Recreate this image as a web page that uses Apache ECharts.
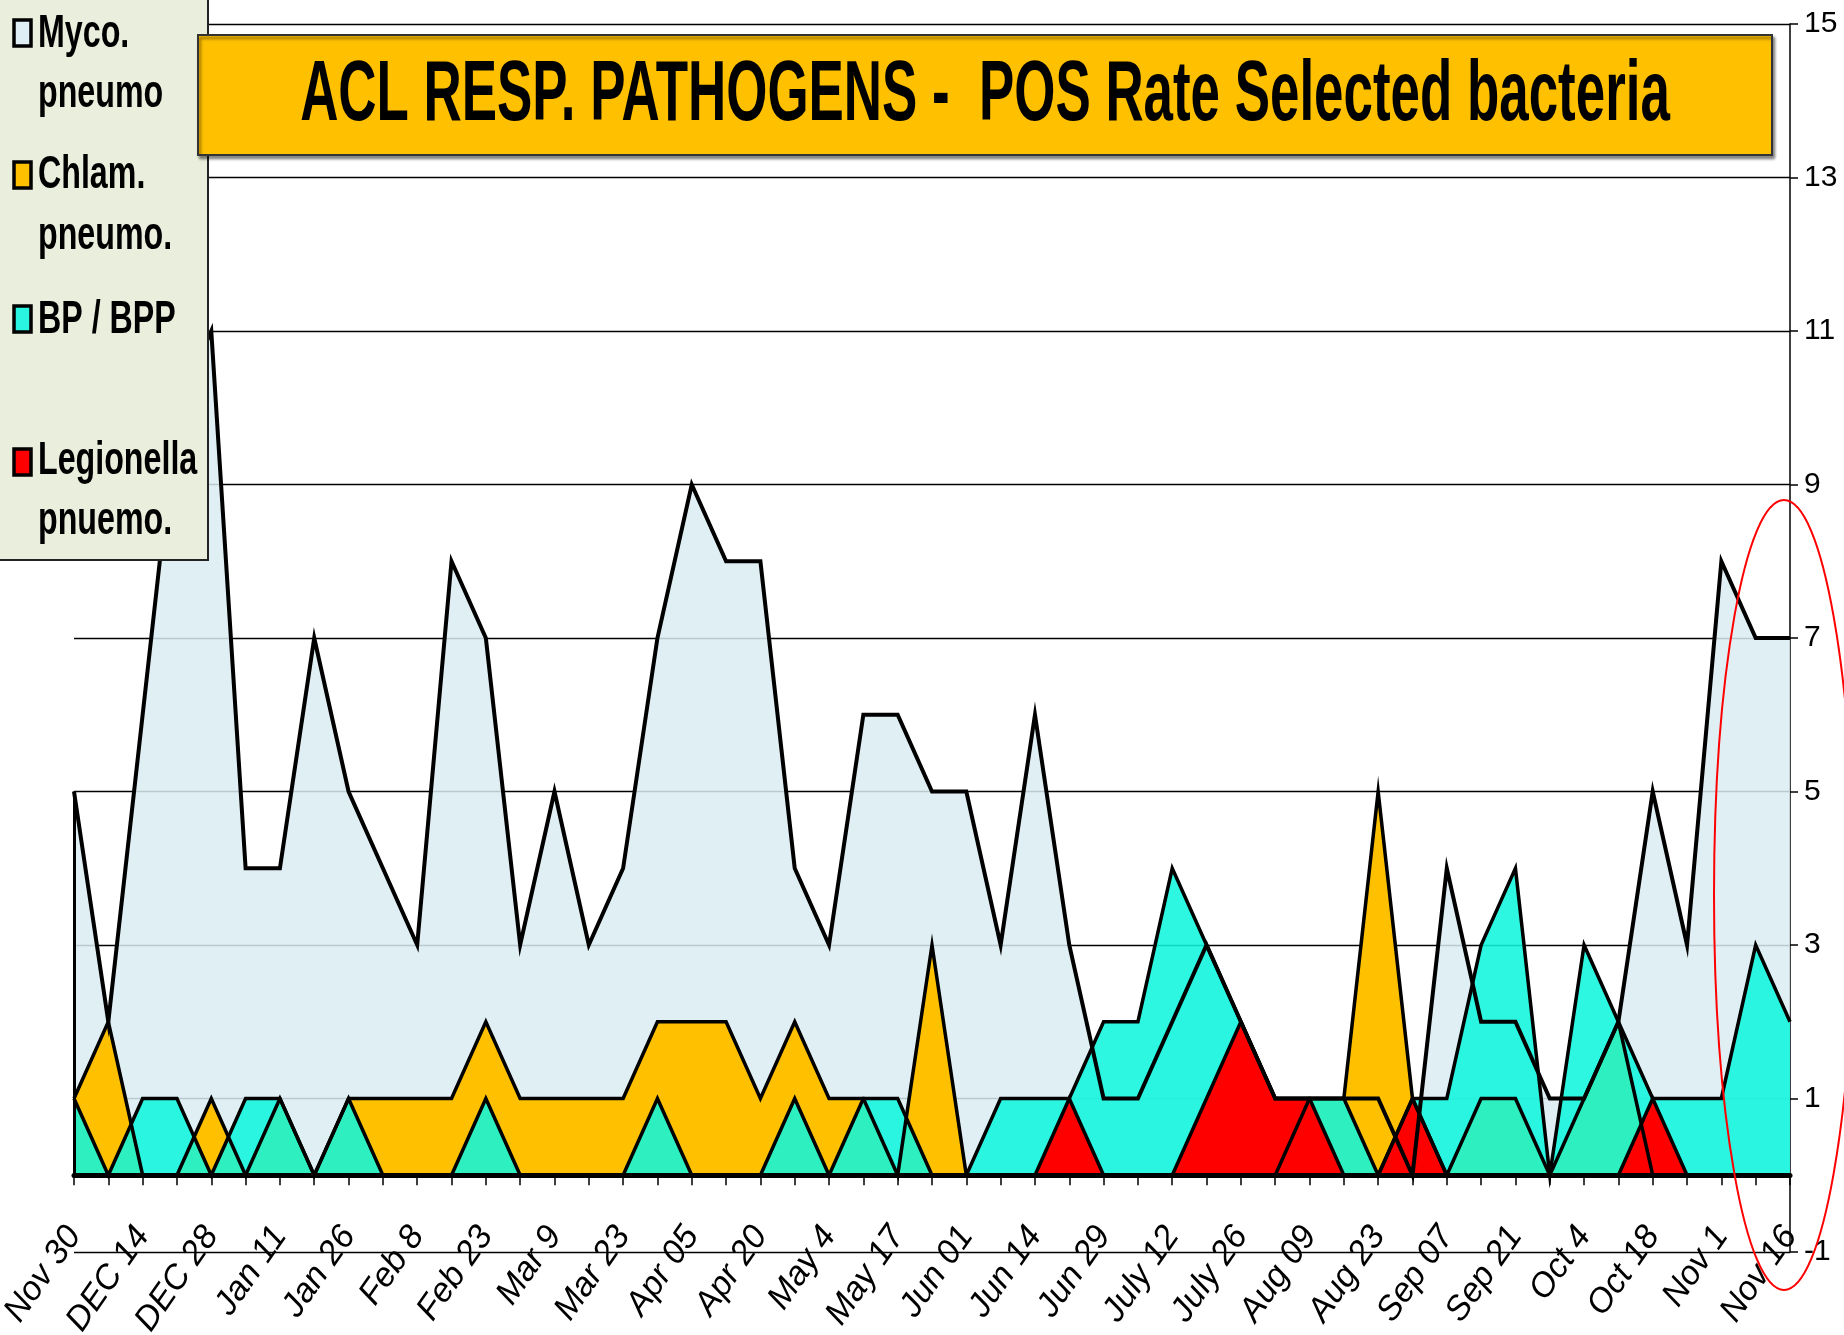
<!DOCTYPE html>
<html>
<head>
<meta charset="utf-8">
<title>ACL RESP. PATHOGENS</title>
<script src="https://cdn.jsdelivr.net/npm/echarts@6/dist/echarts.min.js"></script>
<style>
  html, body { margin: 0; padding: 0; background: #fff; }
  #main { width: 1844px; height: 1335px; }
</style>
</head>
<body>
<div id="main"></div>
<script>
// labels shown on every other weekly point
var tickLabels = ['Nov 30', 'DEC 14', 'DEC 28', 'Jan 11', 'Jan 26', 'Feb 8', 'Feb 23', 'Mar 9',
  'Mar 23', 'Apr 05', 'Apr 20', 'May 4', 'May 17', 'Jun 01', 'Jun 14', 'Jun 29', 'July 12',
  'July 26', 'Aug 09', 'Aug 23', 'Sep 07', 'Sep 21', 'Oct 4', 'Oct 18', 'Nov 1', 'Nov 16']

var myco = [5, 2, 6, 10, 11, 4, 4, 7, 5, 4, 3, 8, 7, 3, 5, 3, 4, 7, 9, 8,
  8, 4, 3, 6, 6, 5, 5, 3, 6, 3, 1, 1, 2, 3, 2, 1, 1, 1, 1, 0,
  4, 2, 2, 1, 1, 2, 5, 3, 8, 7, 7]
var chlam = [1, 2, 0, 0, 1, 0, 1, 0, 1, 1, 1, 1, 2, 1, 1, 1, 1, 2, 2, 2,
  1, 2, 1, 1, 0, 3, 0, 0, 0, 0, 0, 0, 0, 0, 0, 0, 1, 1, 5, 1,
  0, 1, 1, 0, 1, 2, 0, 0, 0, 0, 0]
var bp = [1, 0, 1, 1, 0, 1, 1, 0, 1, 0, 0, 0, 1, 0, 0, 0, 0, 1, 0, 0,
  0, 1, 0, 1, 1, 0, 0, 1, 1, 1, 2, 2, 4, 3, 2, 1, 1, 1, 0, 1,
  1, 3, 4, 0, 3, 2, 1, 1, 1, 3, 2]
var legio = [0, 0, 0, 0, 0, 0, 0, 0, 0, 0, 0, 0, 0, 0, 0, 0, 0, 0, 0, 0,
  0, 0, 0, 0, 0, 0, 0, 0, 0, 1, 0, 0, 0, 1, 2, 1, 1, 0, 0, 1,
  0, 0, 0, 0, 0, 0, 1, 0, 0, 0, 0]

var seriesNames = ['Myco. pneumo', 'Chlam. pneumo.', 'BP / BPP', 'Legionella pnuemo.']
var legendLines = [['Myco.', 'pneumo'], ['Chlam.', 'pneumo.'], ['BP / BPP'], ['Legionella', 'pnuemo.']]
var titleText = 'ACL RESP. PATHOGENS -  POS Rate Selected bacteria'

// one category per week, label only on every other one
var categories = []
for (var i = 0; i < myco.length; i++) {
  categories.push(i % 2 === 0 ? tickLabels[i / 2] : '')
}

var chart = echarts.init(document.getElementById('main'))

var areaColors = ['rgb(218,236,242)', '#ffc000', 'rgb(15,246,221)', '#ff0000']
var areaOpacity = [0.85, 1, 0.87, 1]
var legendColors = ['#dfeef4', '#ffc000', '#2af5e0', '#ff0000']
var values = [myco, chlam, bp, legio]

var series = []
for (var s = 0; s < values.length; s++) {
  var item = {
    name: seriesNames[s],
    type: 'line',
    data: values[s],
    symbol: 'none',
    showSymbol: false,
    silent: true,
    lineStyle: { color: '#000', width: s === 0 ? 4 : 3.5, join: 'miter' },
    itemStyle: { color: legendColors[s] },
    areaStyle: { color: areaColors[s], opacity: areaOpacity[s], origin: 0 }
  }
  series.push(item)
}
// left border of the first area
series[0].markLine = {
  silent: true,
  symbol: ['none', 'none'],
  label: { show: false },
  lineStyle: { color: '#000', width: 3, type: 'solid' },
  data: [[{ coord: [0, 0] }, { coord: [0, myco[0]] }]]
}

// legend box drawn by hand so the entries sit like the original
var graphics = []
graphics.push({
  type: 'rect', z: 100,
  shape: { x: -2, y: -2, width: 210, height: 562 },
  style: { fill: '#eaeedc', stroke: '#222', lineWidth: 2 }
})
var markerTop = [20, 162, 306, 449]
var lineMid = [[34, 94], [175, 236], [320], [461, 521]]
for (var k = 0; k < legendLines.length; k++) {
  graphics.push({
    type: 'rect', z: 101,
    shape: { x: 14, y: markerTop[k], width: 17, height: 26 },
    style: { fill: legendColors[k], stroke: '#000', lineWidth: 3.5 }
  })
  for (var j = 0; j < legendLines[k].length; j++) {
    graphics.push({
      type: 'text', z: 101,
      x: 38, y: lineMid[k][j], scaleX: 0.7,
      style: {
        text: legendLines[k][j], fill: '#000',
        fontSize: 46, fontWeight: 'bold', fontFamily: 'Liberation Sans, Arial, sans-serif',
        align: 'left', verticalAlign: 'middle'
      }
    })
  }
}
// title banner
graphics.push({
  type: 'rect', z: 100,
  shape: { x: 198, y: 35, width: 1574, height: 120 },
  style: {
    fill: '#ffc000', stroke: '#333', lineWidth: 2,
    shadowBlur: 3, shadowOffsetX: 2, shadowOffsetY: 3, shadowColor: 'rgba(0,0,0,0.45)'
  }
})
graphics.push({
  type: 'text', z: 101,
  x: 985, y: 96, scaleX: 0.615,
  style: {
    text: titleText, fill: '#000',
    fontSize: 86, fontWeight: 'bold', fontFamily: 'Liberation Sans, Arial, sans-serif',
    align: 'center', verticalAlign: 'middle'
  }
})
// red ellipse annotation
graphics.push({
  type: 'ellipse', z: 102,
  shape: { cx: 1784, cy: 895, rx: 70, ry: 395 },
  style: { fill: 'none', stroke: '#ff0000', lineWidth: 2 }
})

var option = {
  animation: false,
  backgroundColor: '#fff',
  grid: { left: 74, right: 54, top: 24, bottom: 83, containLabel: false, outerBoundsMode: 'none' },
  xAxis: {
    type: 'category',
    data: categories,
    boundaryGap: false,
    z: 10,
    axisLine: { onZero: true, lineStyle: { color: '#000', width: 5 } },
    axisTick: { show: true, interval: 0, length: 10, lineStyle: { color: '#000', width: 1.5 } },
    axisLabel: {
      interval: 0, rotate: 55, margin: -22,
      color: '#000', fontSize: 34, fontStyle: 'italic',
      fontFamily: 'Liberation Sans, Arial, sans-serif'
    },
    splitLine: { show: false }
  },
  yAxis: {
    type: 'value',
    position: 'right',
    min: -1,
    max: 15,
    interval: 2,
    axisLine: { show: true, lineStyle: { color: '#000', width: 1.5 } },
    axisTick: { show: true, length: 8, lineStyle: { color: '#000', width: 1.5 } },
    axisLabel: {
      color: '#000', fontSize: 30, margin: 14,
      fontFamily: 'Liberation Sans Narrow, Liberation Sans, Arial, sans-serif'
    },
    splitLine: { show: true, lineStyle: { color: '#000', width: 1.3 } }
  },
  graphic: graphics,
  series: series
}

chart.setOption(option)
</script>
</body>
</html>
